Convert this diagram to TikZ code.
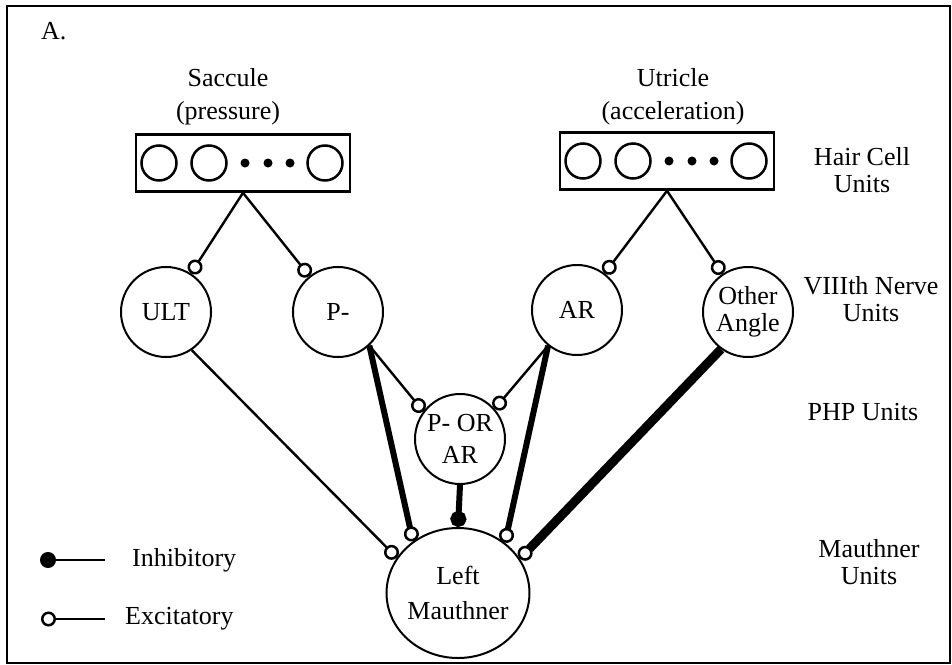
\documentclass[tikz,border=0pt]{standalone}
\usepackage{fontspec}
\setmainfont{Liberation Serif}
\usetikzlibrary{arrows.meta, shapes.geometric, positioning, calc}

\begin{document}
\begin{tikzpicture}[x=1pt, y=-1pt, inner sep=0pt, align=center, font=\fontsize{26}{27}\selectfont]
    % Define styles
    \tikzstyle{unit} = [circle, draw=black, line width=2pt, minimum size=90pt, text centered]
    \tikzstyle{mauthner} = [ellipse, draw=black, line width=2pt, minimum width=121pt, minimum height=130pt, text centered]
    \tikzstyle{hairbox} = [rectangle, draw=black, line width=2.6pt, minimum width=214pt, minimum height=57pt]
    \tikzstyle{ring} = [draw=black, line width=2.5pt]
    \tikzstyle{exc} = [line width=2.4pt, -{Circle[open, length=15pt, line width'=2.5pt]}]
    \tikzstyle{inh} = [line width=6pt, -{Circle[length=16pt]}]

    \useasboundingbox (0,0) rectangle (952,664);
    \draw[line width=2pt] (7,6) rectangle (950,663);

    \node (title) [anchor=base west] at (41,39) {A.};

    % Hair cell boxes
    \node (sacc) [hairbox] at (243,163) {};
    \node (utri) [hairbox] at (667,161) {};
    \foreach \hc in {sacc, utri} {
        \foreach \dx in {-84,-34,82}
            \draw[ring] ($(\hc.center)+(\dx,0)$) circle (17.5);
        \foreach \dx in {2,25,47}
            \fill ($(\hc.center)+(\dx,0)$) circle (4.5);
    }
    \node (sacclbl) [font=\fontsize{26}{33}\selectfont] at (228,97) {Saccule\\(pressure)};
    \node (utrilbl) [font=\fontsize{26}{33}\selectfont] at (673,97) {Utricle\\(acceleration)};

    % VIIIth nerve units
    \node (ult) [unit] at (166,312) {ULT};
    \node (pm) [unit] at (338,312) {P-};
    \node (ar) [unit] at (577,310) {AR};
    \node (oa) [unit] at (748,312) {Other\\Angle};

    % PHP and Mauthner
    \node (php) [unit, font=\fontsize{26}{32}\selectfont] at (460,439) {P- OR\\AR};
    \node (lm) [mauthner, font=\fontsize{26}{35}\selectfont] at (458,593) {Left\\Mauthner};

    % Layer names
    \node (hclbl) at (862,170) {Hair Cell\\Units};
    \node (nervelbl) at (871,299) {VIIIth Nerve\\Units};
    \node (phplbl) at (863,412) {PHP Units};
    \node (mlbl) at (869,562) {Mauthner\\Units};

    % Legend
    \node (inhtxt) [anchor=west] at (132,560) {Inhibitory};
    \node (exctxt) [anchor=west] at (125,619) {Excitatory};
    \coordinate (inhstart) at (105,560);
    \coordinate (inhend) at (40,560);
    \coordinate (excstart) at (105,619);
    \coordinate (excend) at (41,619);
    \draw[inh, line width=2.4pt] (inhstart) -- (inhend);
    \draw[exc] (excstart) -- (excend);

    % Connections
    \draw[exc] (sacc.south) -- (ult);
    \draw[exc] (sacc.south) -- (pm);
    \draw[exc] (utri.south) -- (ar);
    \draw[exc] (utri.south) -- (oa);
    \draw[exc] (pm.-47) -- (php.143);
    \draw[exc] (ar.-129) -- (php.41);
    \draw[exc] (ult.-56) -- (lm.150);
    \draw[exc, line width=6pt] (pm.-47) -- (lm.131);
    \draw[exc, line width=6pt] (ar.-129) -- (lm.47);
    \draw[exc, line width=9pt] (oa.-126) -- (lm.29);
    \draw[inh] (php.south) -- (lm.north);
\end{tikzpicture}
\end{document}
